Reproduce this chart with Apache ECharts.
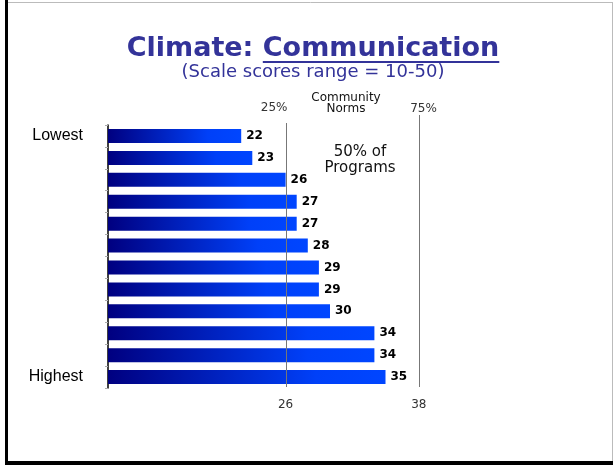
<!DOCTYPE html>
<html><head><meta charset="utf-8">
<script src="https://cdn.jsdelivr.net/npm/echarts@6/dist/echarts.min.js"></script>
<style>html,body{margin:0;padding:0;background:#fff}#c{width:613px;height:465px}</style>
</head><body><div id="c"></div>
<script>
// ---- data ----
const categories = ['Lowest','2','3','4','5','6','7','8','9','10','11','Highest'];
const values = [22,23,26,27,27,28,29,29,30,34,34,35];
const refValues = [26,38];
const refTopLabels = ['25%','75%'];
const titleMain = 'Climate: ';
const titleUnder = 'Communication';
const subtitle = '(Scale scores range = 10-50)';
const normsLabel = 'Community\nNorms';
const midLabel = '50% of\nPrograms';

const chart = echarts.init(document.getElementById('c'), null, {renderer:'canvas'});
const titleColor = '#333399';
const titleFont = 'bold 27px "DejaVu Sans"';
const ctx = document.createElement('canvas').getContext('2d');
ctx.font = titleFont;
const wMain = ctx.measureText(titleMain).width;
const wFull = ctx.measureText(titleMain + titleUnder).width;
const cx = 313;
const tStart = cx - wFull/2;

const option = {
  animation:false,
  backgroundColor:'#fff',
  grid:{left:108, right:61, top:125, bottom:77},
  xAxis:{
    type:'value', min:10, max:50,
    axisLine:{show:false}, axisTick:{show:false}, splitLine:{show:false},
    axisLabel:{customValues:refValues, color:'#333', fontSize:12, fontFamily:'"DejaVu Sans"', margin:11}
  },
  yAxis:{
    type:'category', inverse:true, data:categories,
    axisLine:{show:true, lineStyle:{color:'#000', width:1.5}},
    axisTick:{show:true, length:3, lineStyle:{color:'#aaa'}},
    axisLabel:{interval:0, margin:25, fontSize:16, color:'#000', fontFamily:'"Liberation Sans"',
      formatter:v => (v==='Lowest'||v==='Highest') ? v : ''}
  },
  series:[{
    type:'bar', data:values, barWidth:14,
    itemStyle:{color:new echarts.graphic.LinearGradient(0,0,1,0,[
      {offset:0,color:'#000080'},{offset:0.75,color:'#0040f8'},{offset:1,color:'#0046ff'}])},
    label:{show:true, position:'right', distance:5, fontSize:12, fontWeight:'bold',
      fontFamily:'"DejaVu Sans"', color:'#000'}
  }]
};
chart.setOption(option);

function px(v){ return chart.convertToPixel({xAxisIndex:0}, v); }
const x26 = Math.round(px(refValues[0]))+0.5, x38 = Math.round(px(refValues[1]))+0.5;
const yBottom = 387;
chart.setOption({graphic:[
  // frame
  {type:'rect', shape:{x:5,y:0,width:3,height:465}, style:{fill:'#000'}, z:200},
  {type:'rect', shape:{x:5,y:461,width:608,height:4}, style:{fill:'#000'}, z:200},
  {type:'line', shape:{x1:8,y1:2.5,x2:613,y2:2.5}, style:{stroke:'#bbb',lineWidth:1}, z:200},
  {type:'line', shape:{x1:612.5,y1:2,x2:612.5,y2:461}, style:{stroke:'#bbb',lineWidth:1}, z:200},
  // titles
  {type:'text', x:cx, y:35, style:{text:titleMain+titleUnder, font:titleFont, fill:titleColor, align:'center', verticalAlign:'top'}, z:100},
  {type:'rect', shape:{x:tStart+wMain, y:61, width:wFull-wMain, height:2}, style:{fill:titleColor}, z:100},
  {type:'text', x:cx, y:63, style:{text:subtitle, font:'18px "DejaVu Sans"', fill:titleColor, align:'center', verticalAlign:'top'}, z:100},
  // reference lines
  {type:'line', shape:{x1:x26,y1:123,x2:x26,y2:yBottom}, style:{stroke:'#777',lineWidth:1}, z:100},
  {type:'line', shape:{x1:x38,y1:115,x2:x38,y2:yBottom}, style:{stroke:'#777',lineWidth:1}, z:100},
  {type:'text', x:x26+1, y:102, style:{text:refTopLabels[0], font:'12px "DejaVu Sans"', fill:'#333', align:'right', verticalAlign:'top'}, z:100},
  {type:'text', x:x38+4, y:103, style:{text:refTopLabels[1], font:'12px "DejaVu Sans"', fill:'#333', align:'center', verticalAlign:'top'}, z:100},
  {type:'text', x:346, y:92, style:{text:normsLabel, font:'12px "DejaVu Sans"', fill:'#111', align:'center', verticalAlign:'top', lineHeight:11}, z:100},
  {type:'text', x:360, y:144, style:{text:midLabel, font:'15px "DejaVu Sans"', fill:'#111', align:'center', verticalAlign:'top', lineHeight:16}, z:100}
]});
</script></body></html>
